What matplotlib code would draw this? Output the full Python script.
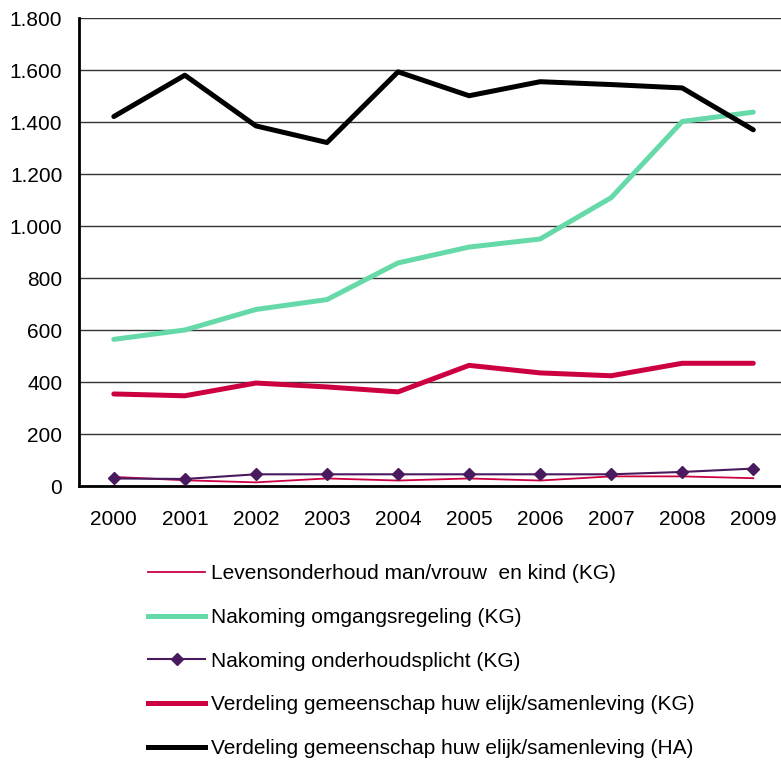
import matplotlib
matplotlib.use("Agg")
import matplotlib.pyplot as plt
from matplotlib.lines import Line2D

plt.rcParams['font.family'] = ['Liberation Sans', 'DejaVu Sans']

years = ['2000', '2001', '2002', '2003', '2004', '2005', '2006', '2007', '2008', '2009']

levensonderhoud_kg = [35, 22, 14, 29, 21, 29, 21, 37, 37, 30]
omgangsregeling_kg = [564, 600, 679, 717, 858, 919, 950, 1109, 1402, 1438]
onderhoudsplicht_kg = [29, 27, 45, 45, 45, 45, 45, 45, 54, 67]
verdeling_kg = [354, 347, 396, 381, 362, 464, 435, 424, 472, 472]
verdeling_ha = [1421, 1580, 1385, 1321, 1593, 1501, 1555, 1544, 1531, 1370]

labels = [
    'Levensonderhoud man/vrouw  en kind (KG)',
    'Nakoming omgangsregeling (KG)',
    'Nakoming onderhoudsplicht (KG)',
    'Verdeling gemeenschap huw elijk/samenleving (KG)',
    'Verdeling gemeenschap huw elijk/samenleving (HA)',
]

y_ticks = [0, 200, 400, 600, 800, 1000, 1200, 1400, 1600, 1800]
y_tick_labels = ['0', '200', '400', '600', '800', '1.000', '1.200', '1.400', '1.600', '1.800']

W, H = 781, 763
FS = 15
fig = plt.figure(figsize=(W / 100, H / 100), dpi=100)
ax = fig.add_axes([79 / W, 1 - 486 / H, (W - 79) / W, (486 - 18) / H])

x = list(range(len(years)))
c_red = '#CC0040'
c_green = '#66D9A8'
c_purple = '#4A1A5E'

ax.plot(x, levensonderhoud_kg, color=c_red, lw=1.3, zorder=3)
ax.plot(x, omgangsregeling_kg, color=c_green, lw=3.6, solid_capstyle='round', zorder=3)
ax.plot(x, onderhoudsplicht_kg, color=c_purple, lw=1.5, marker='D', markersize=6,
        zorder=4)
ax.plot(x, verdeling_kg, color=c_red, lw=3.6, solid_capstyle='round', zorder=3)
ax.plot(x, verdeling_ha, color='black', lw=3.6, solid_capstyle='round', zorder=5)

ax.set_ylim(0, 1800)
ax.set_xlim(-0.49, 9.39)
ax.set_yticks(y_ticks)
ax.set_yticklabels(y_tick_labels)
ax.set_xticks(x)
ax.set_xticklabels(years)
ax.tick_params(axis='both', length=0, labelsize=FS)
ax.tick_params(axis='y', pad=12)
ax.tick_params(axis='x', pad=17)

ax.grid(axis='y', color='#333333', lw=1.0)
ax.set_axisbelow(True)
for side in ['top', 'right']:
    ax.spines[side].set_visible(False)
ax.spines['left'].set_linewidth(2)
ax.spines['bottom'].set_linewidth(2)

handles = [
    Line2D([], [], color=c_red, lw=1.3),
    Line2D([], [], color=c_green, lw=3.6),
    Line2D([], [], color=c_purple, lw=1.5, marker='D', markersize=6),
    Line2D([], [], color=c_red, lw=3.6),
    Line2D([], [], color='black', lw=3.6),
]
fig.legend(handles, labels, loc='upper left',
           bbox_to_anchor=(148 / W, 1 - 564 / H), frameon=False,
           fontsize=FS, handlelength=2.74, handletextpad=0.29,
           labelspacing=1.19, borderpad=0, borderaxespad=0)

fig.savefig('out.png', dpi=100)
